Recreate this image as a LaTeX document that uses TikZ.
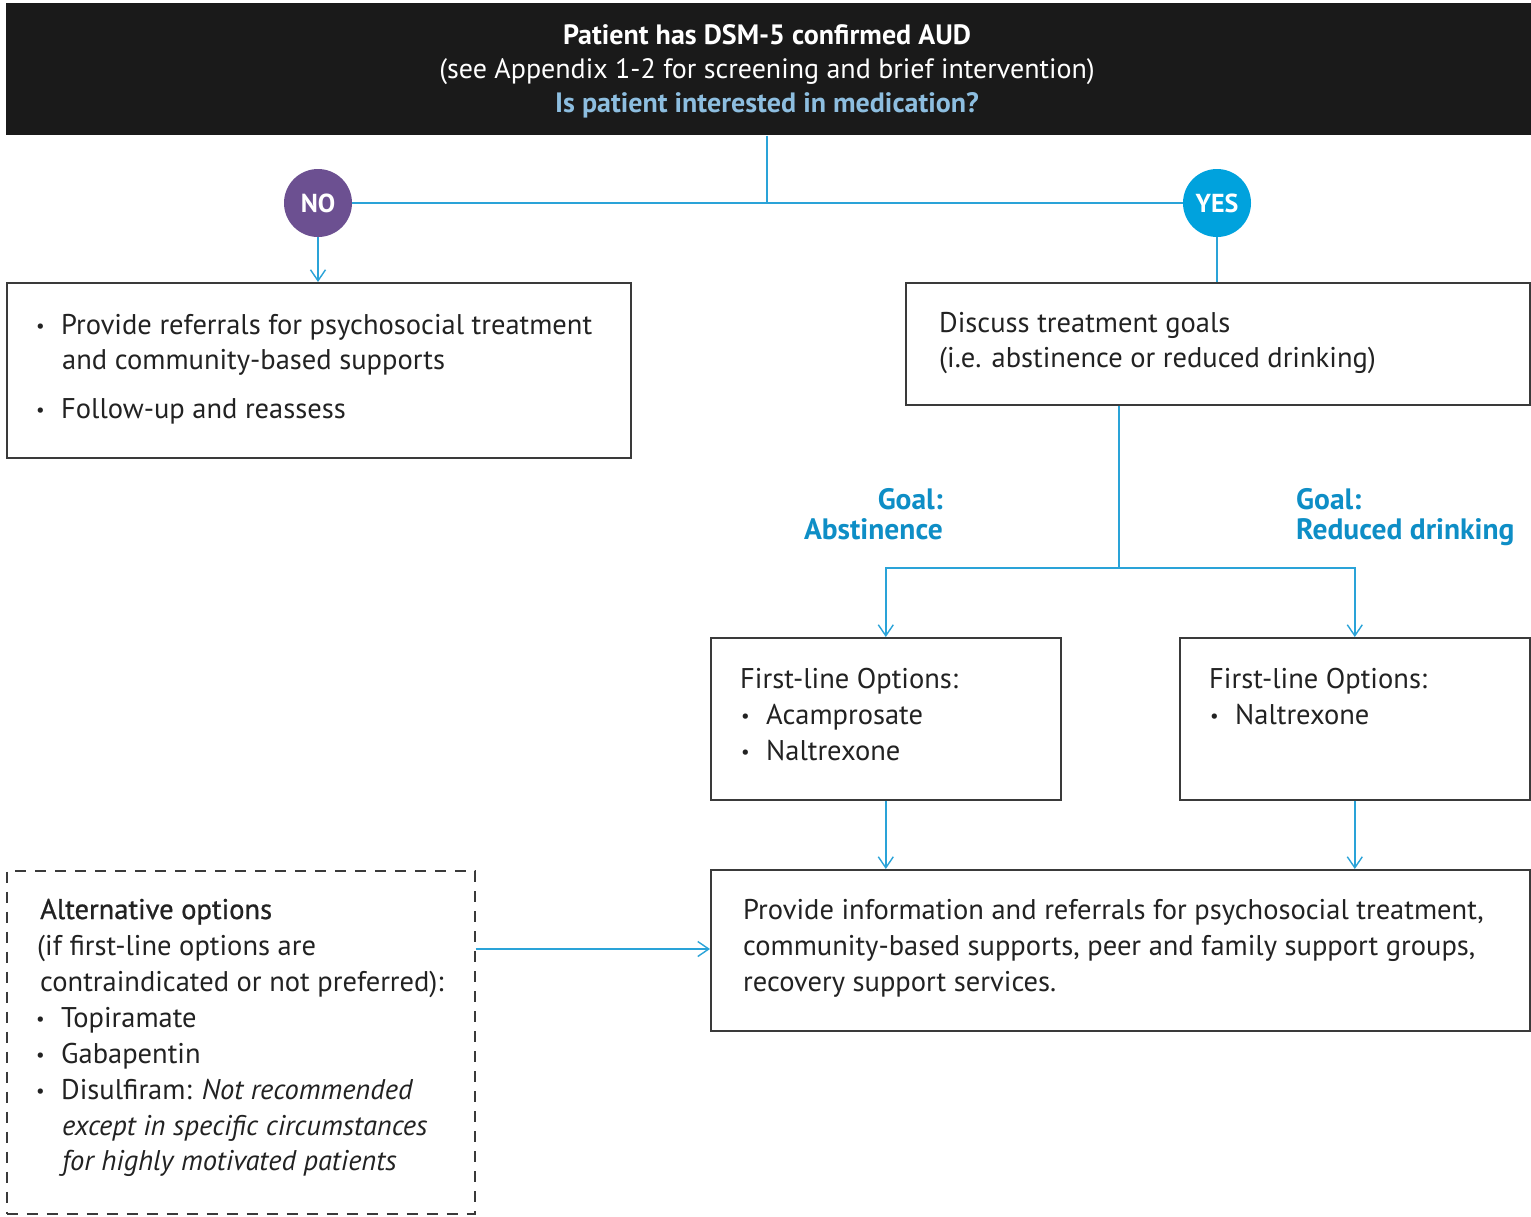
\documentclass[tikz,border=0pt]{standalone}
\usepackage{fontspec}
\setmainfont{PT Sans}
\usetikzlibrary{arrows.meta}
\definecolor{hdr}{HTML}{1A1A1A}
\definecolor{lblue}{HTML}{8DBEE0}
\definecolor{cblue}{HTML}{2AA3D8}
\definecolor{gblue}{HTML}{0E8EC6}
\definecolor{nopurp}{HTML}{6C5091}
\definecolor{yesblue}{HTML}{00A2DD}
\definecolor{boxline}{HTML}{3A3A3A}
\definecolor{txtc}{HTML}{222222}
\newcommand{\bul}{\makebox[25pt][l]{\raisebox{2pt}{\fontsize{19}{19}\selectfont\textbullet}}}
\begin{document}
\begin{tikzpicture}[x=1pt,y=-1pt,
  box/.style={draw=boxline,line width=1.6pt,inner sep=0pt,anchor=north west},
  dbox/.style={draw=boxline,line width=1.6pt,dash pattern=on 11pt off 9pt,inner sep=0pt,anchor=north west},
  txt/.style={anchor=base west,inner sep=0pt,text=txtc,font=\fontsize{28.5}{36}\selectfont},
  htxt/.style={anchor=base,inner sep=0pt,font=\fontsize{28}{34}\selectfont},
  goal/.style={inner sep=0pt,text=gblue,font=\fontsize{29.5}{30}\selectfont\bfseries},
  conn/.style={draw=cblue,line width=1.6pt},
  arr/.style={conn,-{Straight Barb[length=11pt,width=15pt,line width=1.4pt]}},
  circ/.style={circle,minimum size=68pt,inner sep=0pt,text=white,font=\fontsize{26}{26}\selectfont\bfseries}]
\useasboundingbox (0,0) rectangle (1531,1216);
\fill[white] (0,0) rectangle (1531,1216);
% header
\node[box,fill=hdr,draw=none,minimum width=1525pt,minimum height=132pt] (hdr) at (5,2) {};
\node[htxt,text=white,font=\fontsize{28}{34}\selectfont\bfseries] (h1) at (767,44) {Patient has DSM-5 confirmed AUD};
\node[htxt,text=white] (h2) at (767,78) {(see Appendix 1-2 for screening and brief intervention)};
\node[htxt,text=lblue,font=\fontsize{28}{34}\selectfont\bfseries] (h3) at (767,112) {Is patient interested in medication?};
% circles
\node[circ,fill=nopurp] (no) at (318,203) {NO};
\node[circ,fill=yesblue] (yes) at (1217,203) {YES};
\coordinate (hb) at (767,134);
\coordinate (hj) at (767,202);
\draw[conn] (hdr.south -| hb) -- (hj);
\draw[conn] (no.east) -- (yes.west);
% left box
\node[box,minimum width=624pt,minimum height=175pt] (left) at (6,282) {};
\draw[arr] (no.south) -- (left.north -| no);
\node[txt] (l1) at (36,334) {\bul Provide referrals for psychosocial treatment};
\node[txt] (l2) at (62,369) {and community-based supports};
\node[txt] (l3) at (36,418) {\bul Follow-up and reassess};
% right box
\node[box,minimum width=624pt,minimum height=122pt] (right) at (905,282) {};
\draw[conn] (yes.south) -- (right.north -| yes);
\node[txt] (r1) at (939,332) {Discuss treatment goals};
\node[txt] (r2) at (939,367) {(i.e. abstinence or reduced drinking)};
% goal split
\coordinate (split) at (1119,568);
\node[box,minimum width=350pt,minimum height=162pt] (fa) at (710,637) {};
\node[box,minimum width=350pt,minimum height=162pt] (fb) at (1179,637) {};
\draw[conn] (right.south -| split) -- (split);
\draw[arr] (split) -| (fa.north);
\draw[arr] (split) -| (fb.north);
\node[goal,anchor=north east,align=right] (ga) at (943,488) {Goal:\\Abstinence};
\node[goal,anchor=north west,align=left] (gb) at (1296,488) {Goal:\\Reduced drinking};
\node[txt] (a1) at (740,688) {First-line Options:};
\node[txt] (a2) at (741,724) {\bul Acamprosate};
\node[txt] (a3) at (741,760) {\bul Naltrexone};
\node[txt] (b1) at (1209,688) {First-line Options:};
\node[txt] (b2) at (1210,724) {\bul Naltrexone};
% bottom box
\node[box,minimum width=819pt,minimum height=161pt] (bot) at (710,869) {};
\draw[arr] (fa.south) -- (bot.north -| fa.south);
\draw[arr] (fb.south) -- (bot.north -| fb.south);
\node[txt] (c1) at (743,919) {Provide information and referrals for psychosocial treatment,};
\node[txt] (c2) at (743,955) {community-based supports, peer and family support groups,};
\node[txt] (c3) at (743,991) {recovery support services.};
% dashed box
\node[dbox,minimum width=468pt,minimum height=343pt] (alt) at (6,870) {};
\node[txt,font=\fontsize{28.5}{36}\selectfont\addfontfeature{FakeBold=0.8}] (d1) at (40,919) {Alternative options};
\node[txt] (d2) at (37,955) {(if first-line options are};
\node[txt] (d3) at (40,991) {contraindicated or not preferred):};
\node[txt] (d4) at (36,1027) {\bul Topiramate};
\node[txt] (d5) at (36,1063) {\bul Gabapentin};
\node[txt] (d6) at (36,1099) {\bul Disulfiram: \textit{Not recommended}};
\node[txt] (d7) at (62,1135) {\textit{except in specific circumstances}};
\node[txt] (d8) at (62,1170) {\textit{for highly motivated patients}};
\coordinate (am) at (474,949);
\draw[arr] (alt.east |- am) -- (bot.west |- am);
\end{tikzpicture}
\end{document}
